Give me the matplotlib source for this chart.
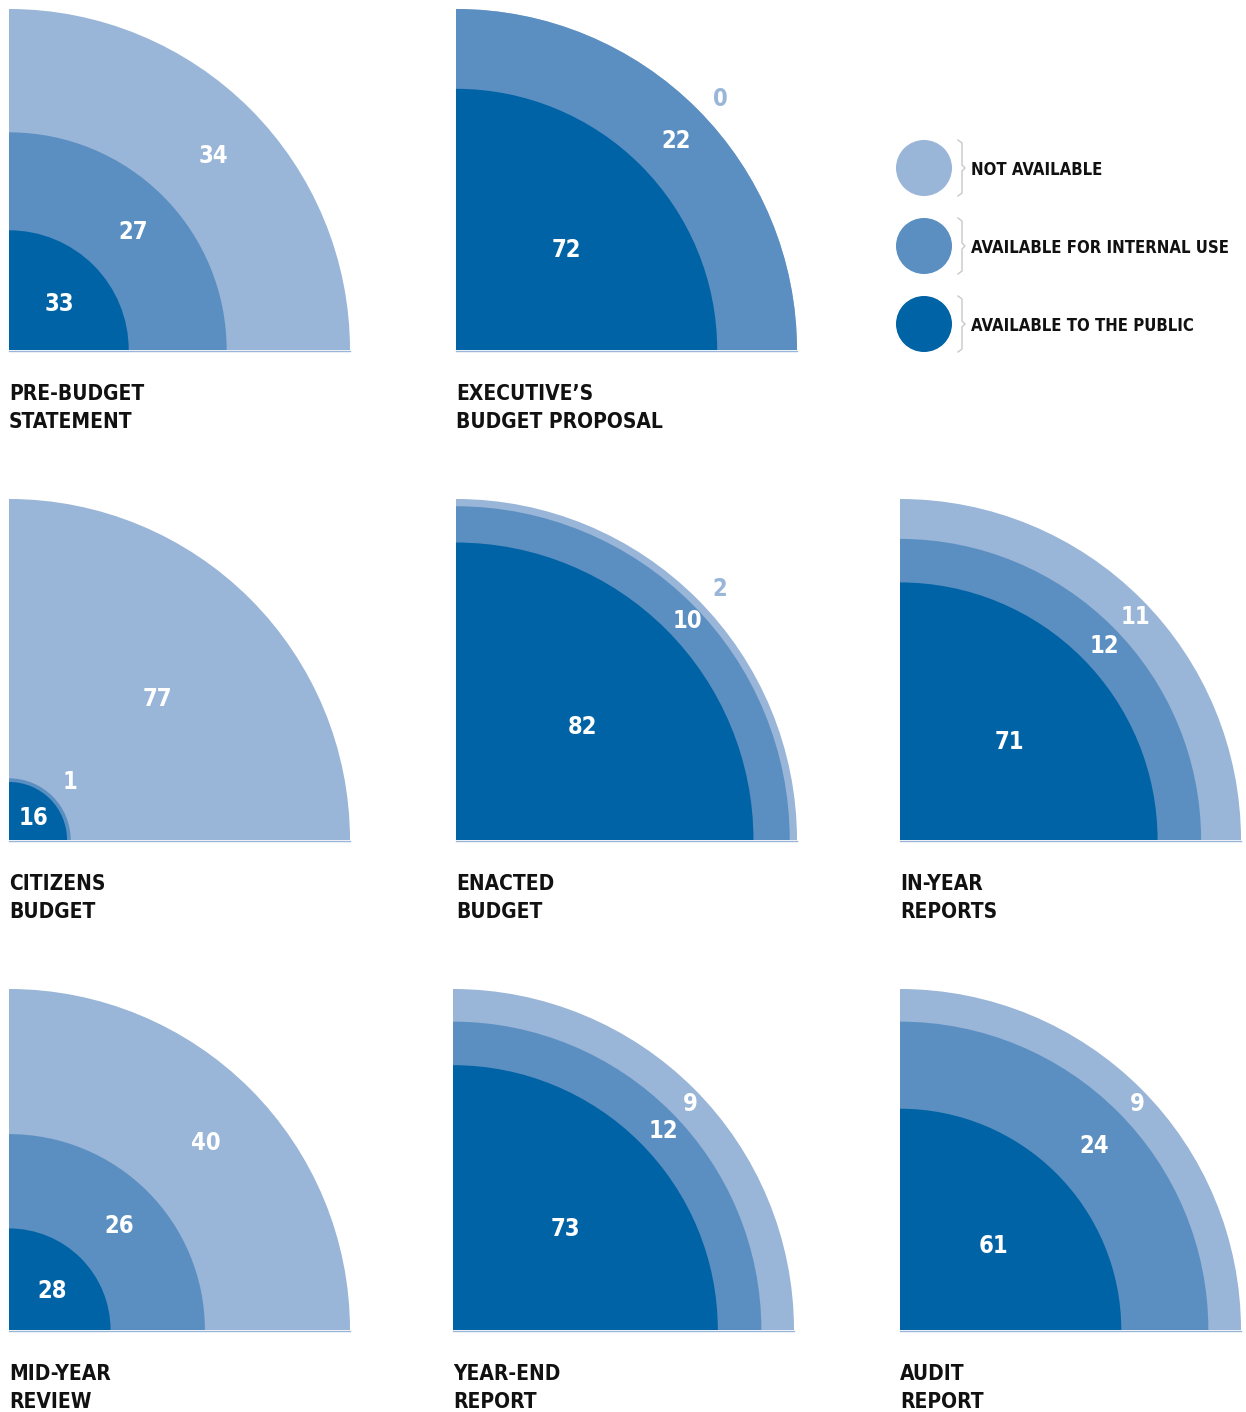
import numpy as np
import matplotlib
matplotlib.use("Agg")
import matplotlib.pyplot as plt
from matplotlib.patches import Wedge, Circle
from matplotlib.lines import Line2D

plt.rcParams['font.family'] = ['DejaVu Sans']
plt.rcParams['font.stretch'] = 'condensed'

# share of countries (%), per document type
titles = ["PRE-BUDGET\nSTATEMENT", "EXECUTIVE’S\nBUDGET PROPOSAL",
          "CITIZENS\nBUDGET", "ENACTED\nBUDGET", "IN-YEAR\nREPORTS",
          "MID-YEAR\nREVIEW", "YEAR-END\nREPORT", "AUDIT\nREPORT"]
public = [33, 72, 16, 82, 71, 28, 73, 61]
internal = [27, 22, 1, 10, 12, 26, 12, 24]
not_avail = [34, 0, 77, 2, 11, 40, 9, 9]

legend_labels = ["NOT AVAILABLE", "AVAILABLE FOR INTERNAL USE", "AVAILABLE TO THE PUBLIC"]

C_NA = "#99b5d7"
C_INT = "#5b8fc1"
C_PUB = "#0063a5"

W, H = 1246, 1412
R = 341.0
total = 94.0
scale = R / total

# panel origins (bottom-left corner of each quarter circle), pixels
origins = [(9, 350), (456, 350),
           (9, 840), (456, 840), (900, 840),
           (9, 1330), (453, 1330), (900, 1330)]

fig = plt.figure(figsize=(W / 100, H / 100), dpi=100)
ax = fig.add_axes([0, 0, 1, 1])
ax.set_xlim(0, W)
ax.set_ylim(H, 0)
ax.set_aspect('equal')
ax.axis('off')

num_kw = dict(ha='center', va='center', fontsize=17, fontweight='bold')

for i, (cx, cy) in enumerate(origins):
    vals = [public[i], internal[i], not_avail[i]]
    cols = [C_PUB, C_INT, C_NA]
    cum = np.cumsum(vals)
    # draw outer rings first
    for k in [2, 1, 0]:
        ax.add_patch(Wedge((cx, cy), cum[k] * scale, -90, 0, color=cols[k], lw=0))
    # thin baseline under the quarter
    ax.plot([cx, cx + R], [cy + 0.5, cy + 0.5], color=C_NA, lw=1)
    # labels
    for k in range(3):
        r_in = 0 if k == 0 else cum[k - 1] * scale
        r_out = cum[k] * scale
        a = np.deg2rad(43.5)
        if vals[k] < 3:
            r_lab = r_out + 23
            col = 'white' if r_lab < R else C_NA
        elif k == 0:
            r_lab = 0.57 * r_out
            a = np.deg2rad(42)
            col = 'white'
        else:
            r_lab = (r_in + r_out) / 2 + 3
            col = 'white'
        ax.text(cx + r_lab * np.cos(a), cy - r_lab * np.sin(a), str(vals[k]),
                color=col, **num_kw)
    ax.text(cx, cy + 58, titles[i], ha='left', va='center', fontsize=15,
            fontweight='bold', color='#111111', linespacing=1.5)

# legend
leg_y = [168, 246, 324]
for y, col, lab in zip(leg_y, [C_NA, C_INT, C_PUB], legend_labels):
    ax.add_patch(Circle((924, y), 28, color=col, lw=0))
    bx = [958, 962, 962, 965, 962, 962, 958]
    by = [y - 28, y - 25, y - 3, y, y + 3, y + 25, y + 28]
    ax.add_line(Line2D(bx, by, color='#c8c8c8', lw=1))
    ax.text(971, y + 2, lab, ha='left', va='center', fontsize=12,
            fontweight='bold', color='#111111')

fig.savefig("out.png", dpi=100)
